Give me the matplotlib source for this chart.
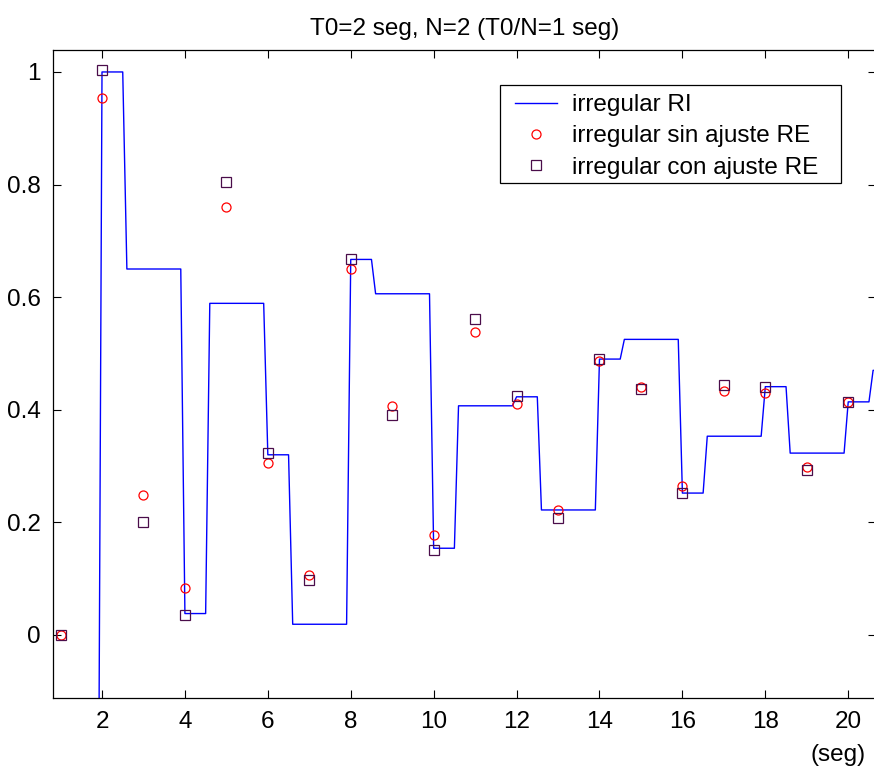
import numpy as np
import matplotlib
matplotlib.use("Agg")
import matplotlib.pyplot as plt
from matplotlib.patches import Rectangle

plt.rcParams['font.family'] = ['Liberation Sans', 'DejaVu Sans']

# muestras (enteros) de la respuesta irregular
t_k = [1, 2, 3, 4, 5, 6, 7, 8, 9, 10, 11, 12, 13, 14, 15, 16, 17, 18, 19, 20]
sin_ajuste = [0.0, 0.954, 0.248, 0.083, 0.761, 0.305, 0.107, 0.650, 0.407, 0.178,
              0.538, 0.410, 0.222, 0.487, 0.440, 0.265, 0.433, 0.430, 0.299, 0.414]
con_ajuste = [0.0, 1.004, 0.201, 0.036, 0.805, 0.323, 0.097, 0.667, 0.390, 0.151,
              0.562, 0.424, 0.208, 0.491, 0.437, 0.252, 0.444, 0.440, 0.293, 0.414]

# RI: niveles escalonados (cambio en t y en t+0.6, rampa de 0.1)
ri_start = [2, 2.6, 4, 4.6, 6, 6.6, 8, 8.6, 10, 10.6, 12, 12.6, 14, 14.6, 16, 16.6,
            18, 18.6, 20, 20.6]
ri_level = [1.0, 0.650, 0.038, 0.589, 0.320, 0.019, 0.667, 0.606, 0.154, 0.407,
            0.423, 0.222, 0.490, 0.525, 0.252, 0.353, 0.441, 0.323, 0.414, 0.47]
ri_t0, ri_y0 = 1.9, -0.6
ri_end = 21.0
dt = 0.1

ri_t = [ri_t0]
ri_y = [ri_y0]
for i in range(len(ri_start)):
    t_end = ri_start[i + 1] - dt if i + 1 < len(ri_start) else ri_end
    ri_t += [ri_start[i], t_end]
    ri_y += [ri_level[i], ri_level[i]]

W, H = 874, 771
fs = 17.5
fig = plt.figure(figsize=(W / 100, H / 100), dpi=100)
# axes box in pixels: left 53, right 876, top 50, bottom 698
ax_l, ax_r, ax_t, ax_b = 53, 876, 50, 698
ax = fig.add_axes([ax_l / W, 1 - ax_b / H, (ax_r - ax_l) / W, (ax_b - ax_t) / H])

def px2ax(x, y):
    return (x - ax_l) / (ax_r - ax_l), (ax_b - y) / (ax_b - ax_t)

ax.plot(ri_t, ri_y, color='blue', lw=1.0, label='irregular RI')
ax.plot(t_k, sin_ajuste, 'o', mfc='none', mec='red', ms=6.5, mew=0.9,
        label='irregular sin ajuste RE')
ax.plot(t_k, con_ajuste, 's', mfc='none', mec='#4a0d4a', ms=6.5, mew=0.9,
        label='irregular con ajuste RE')

ax.set_xlim(0.818, 20.67)
ax.set_ylim(-0.112, 1.039)
ax.set_xticks(range(2, 21, 2))
ax.set_yticks([0, 0.2, 0.4, 0.6, 0.8, 1])
ax.set_yticklabels(['0', '0.2', '0.4', '0.6', '0.8', '1'])
ax.tick_params(direction='in', top=True, right=True, length=6, width=0.8,
               labelsize=fs)
ax.tick_params(axis='y', pad=9)
ax.tick_params(axis='x', pad=9)
for s in ax.spines.values():
    s.set_linewidth(0.9)

ax.set_title('T0=2 seg, N=2 (T0/N=1 seg)', fontsize=fs, pad=11)
ax.text(866 / W, 1 - 755 / H, '(seg)', transform=fig.transFigure,
        ha='right', va='center', fontsize=fs)

# legend box (MATLAB style)
bx0, by0 = px2ax(500, 183)
bx1, by1 = px2ax(841, 85)
ax.add_patch(Rectangle((bx0, by0), bx1 - bx0, by1 - by0, transform=ax.transAxes,
                       facecolor='white', edgecolor='black', lw=0.9, zorder=4.5))
leg = ax.legend(loc='upper left', bbox_to_anchor=px2ax(515, 94),
                fontsize=fs, frameon=False, handlelength=1.73, borderaxespad=0,
                borderpad=0, labelspacing=0.38, handletextpad=0.62)

fig.savefig('out.png', dpi=100)
